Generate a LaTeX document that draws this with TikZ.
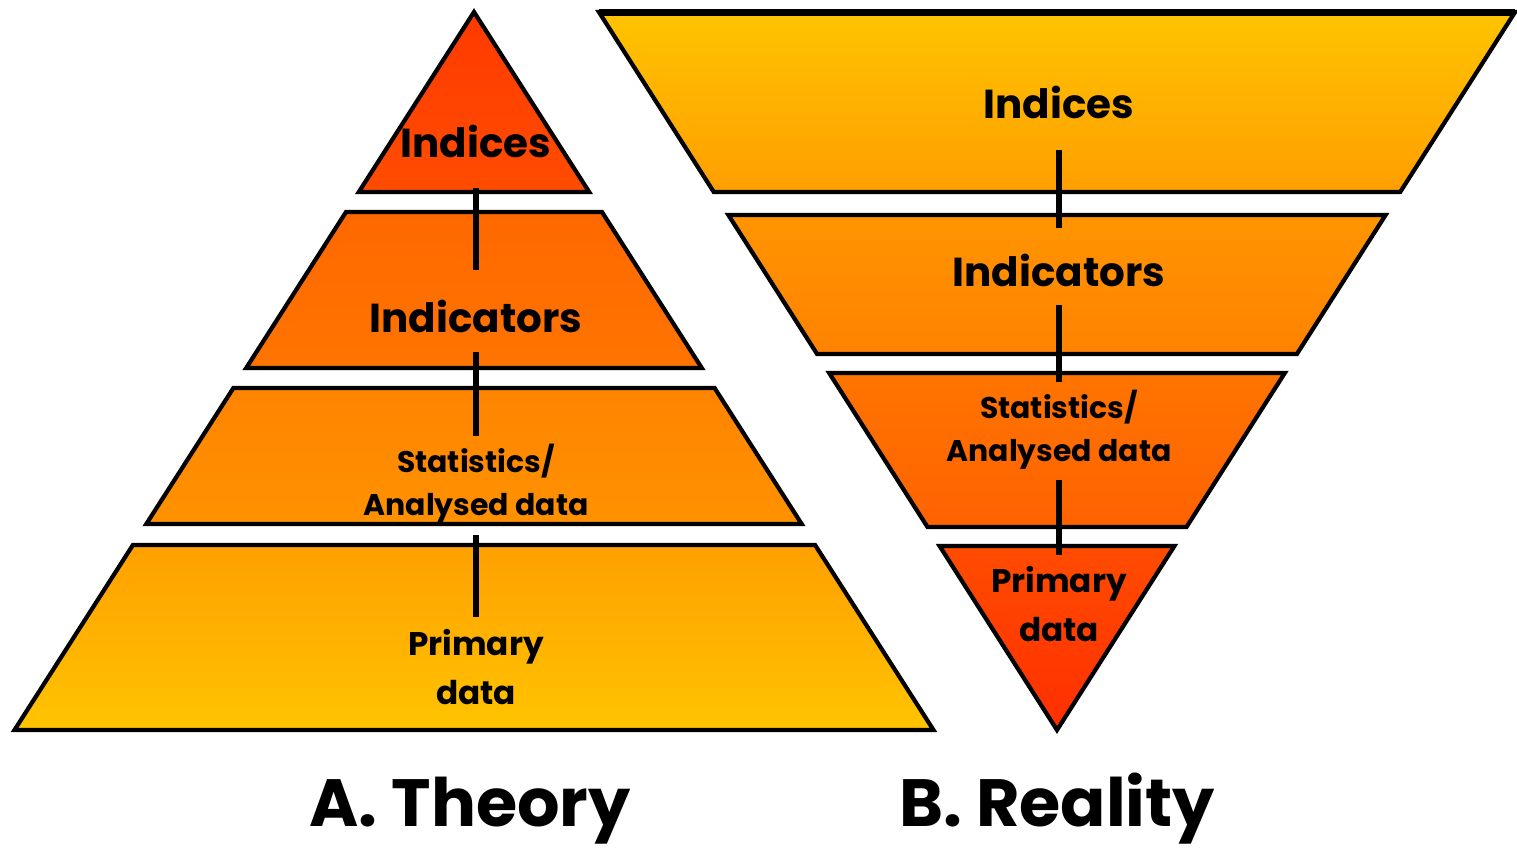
\documentclass[tikz,border=0pt]{standalone}
\usepackage{fontspec}
\setmainfont{Poppins}
\usepackage{tikz}
\definecolor{redtop}{HTML}{FF3A00}
\definecolor{redbot}{HTML}{FF4C00}
\definecolor{ortop}{HTML}{FF6800}
\definecolor{orbot}{HTML}{FF7400}
\definecolor{amtop}{HTML}{FF8400}
\definecolor{ambot}{HTML}{FF9200}
\definecolor{yetop}{HTML}{FFA000}
\definecolor{yebot}{HTML}{FFC400}
\tikzstyle{tier}=[draw=black,line width=1.2pt]
\tikzstyle{lbl}=[inner sep=0pt,align=center,font=\bfseries\fontsize{11.5}{14}\selectfont]
\tikzstyle{smalllbl}=[inner sep=0pt,align=center,font=\bfseries\fontsize{8.5}{12.2}\selectfont]
\tikzstyle{midlbl}=[inner sep=0pt,align=center,font=\bfseries\fontsize{9.3}{14.2}\selectfont]
\tikzstyle{title}=[inner sep=0pt,anchor=base,font=\bfseries\fontsize{19}{24}\selectfont]
\tikzstyle{link}=[draw=black,line width=1.5pt]

\begin{document}
\begin{tikzpicture}[x=0.01cm,y=-0.01cm]
\useasboundingbox[fill=white] (0,0) rectangle (1517,850);
\draw[tier,top color=redtop,bottom color=redbot] (474,12) -- (589.2,192) -- (358.8,192) -- cycle;
\draw[tier,top color=ortop,bottom color=orbot] (346,212) -- (602,212) -- (701.8,368) -- (246.2,368) -- cycle;
\draw[tier,top color=amtop,bottom color=ambot] (233.4,388) -- (714.6,388) -- (801.7,524) -- (146.3,524) -- cycle;
\draw[tier,top color=yetop,bottom color=yebot] (132.9,545) -- (815.1,545) -- (933.5,730) -- (14.5,730) -- cycle;
\draw[tier,top color=yebot,bottom color=yetop!90!ambot] (598.9,12) -- (1515.1,12) -- (1400.2,192) -- (713.8,192) -- cycle;
\draw[line width=2pt] (598.9,12) -- (1515.1,12);
\draw[tier,top color=ambot!80!yetop,bottom color=amtop!90!orbot] (728.4,215) -- (1385.6,215) -- (1296.9,354) -- (817.1,354) -- cycle;
\draw[tier,top color=orbot,bottom color=ortop!80!redbot] (829.2,373) -- (1284.8,373) -- (1186.5,527) -- (927.5,527) -- cycle;
\draw[tier,top color=redbot,bottom color=redtop!80!red] (939.6,546) -- (1174.4,546) -- (1057,730) -- cycle;
\node[lbl] (tIndices) at (476,141) {Indices};
\node[lbl] (tIndicators) at (476,316) {Indicators};
\node[smalllbl] (tStats) at (476,484) {Statistics/\\Analysed data};
\node[midlbl] (tPrimary) at (476,667) {Primary\\data};
\node[lbl] (rIndices) at (1059,102) {Indices};
\node[lbl] (rIndicators) at (1059,270) {Indicators};
\node[smalllbl] (rStats) at (1059,430) {Statistics/\\Analysed data};
\node[midlbl] (rPrimary) at (1059,604) {Primary\\data};
\node[title] (tTitle) at (470,826) {A. Theory};
\node[title] (rTitle) at (1057,826) {B. Reality};
\draw[link,shorten <=0.47cm,shorten >=0.46cm] (tIndices.center) -- (tIndicators.center);
\draw[link,shorten <=0.36cm,shorten >=0.48cm] (tIndicators.center) -- (tStats.center);
\draw[link,shorten <=0.51cm,shorten >=0.50cm] (tStats.center) -- (tPrimary.center);
\draw[link,shorten <=0.48cm,shorten >=0.42cm] (rIndices.center) -- (rIndicators.center);
\draw[link,shorten <=0.35cm,shorten >=0.48cm] (rIndicators.center) -- (rStats.center);
\draw[link,shorten <=0.50cm,shorten >=0.49cm] (rStats.center) -- (rPrimary.center);
\end{tikzpicture}
\end{document}
